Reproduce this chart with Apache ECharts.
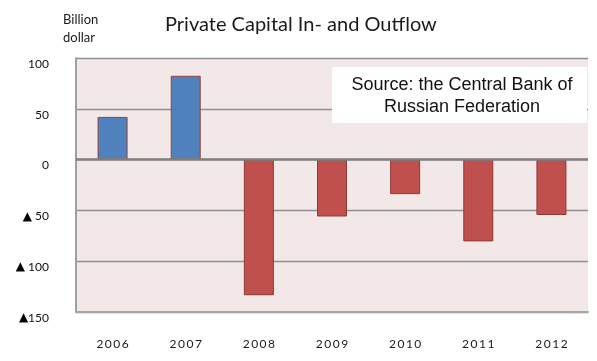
<!DOCTYPE html>
<html>
<head>
<meta charset="utf-8">
<script src="https://cdn.jsdelivr.net/npm/echarts@6/dist/echarts.min.js"></script>
<style>html,body{margin:0;padding:0;background:#fff;}#c{width:597px;height:361px;}</style>
</head>
<body>
<div id="c"></div>
<script>
var years = ['2006', '2007', '2008', '2009', '2010', '2011', '2012'];
var flows = [42, 82.5, -133.5, -56, -34, -80.5, -54.5];
var yTicks = { min: -150, max: 100, step: 50 };
var titleText = 'Private Capital In- and Outflow';
var unitText = 'Billion\ndollar';
var sourceText = 'Source: the Central Bank of\nRussian Federation';

var FONT = 'Lato, "Open Sans", sans-serif';
var chart = echarts.init(document.getElementById('c'), null, { renderer: 'canvas' });
chart.setOption({
  animation: false,
  backgroundColor: '#ffffff',
  title: {
    text: titleText, left: 160, top: 10,
    textStyle: { fontFamily: FONT, fontSize: 20, fontWeight: 'normal', color: '#1a1a1a' }
  },
  graphic: [
    { type: 'text', x: 63, y: 29, style: { text: unitText, font: '13px ' + FONT, fill: '#1a1a1a', lineHeight: 18, verticalAlign: 'middle' } },
    { type: 'rect', shape: { x: 332, y: 67, width: 255, height: 56 }, style: { fill: '#ffffff' }, z: 10 },
    { type: 'text', x: 462, y: 96, z: 11, style: { text: sourceText, font: '18px "Liberation Sans", Arial, sans-serif', fill: '#111', align: 'center', verticalAlign: 'middle', lineHeight: 22 } }
  ],
  grid: { left: 76, right: 9, top: 58, bottom: 49, show: true, backgroundColor: '#f2e8e8', borderWidth: 0 },
  xAxis: {
    type: 'category', data: years,
    axisLine: { onZero: false, lineStyle: { color: '#a6a6a6', width: 2 } },
    axisTick: { show: false },
    axisLabel: {
      margin: 26, color: '#1a1a1a', fontFamily: FONT, fontSize: 12,
      formatter: function (v) { return v.split('').join('\u2009'); }
    }
  },
  yAxis: {
    type: 'value', min: yTicks.min, max: yTicks.max, interval: yTicks.step,
    axisLine: { show: true, lineStyle: { color: '#a0a0a0', width: 2 } },
    axisTick: { show: false },
    splitLine: { lineStyle: { color: '#8f8f8f', width: 1.3 } },
    axisLabel: {
      margin: 27, color: '#111', fontFamily: FONT, fontSize: 12, verticalAlign: 'top',
      rich: { t: { fontFamily: '"DejaVu Sans", sans-serif', fontSize: 12, color: '#000' } },
      formatter: function (v) { return v < 0 ? (v === -150 ? '{t|\u25B2}' + (-v) : '{t|\u25B2} ' + (-v)) : String(v); }
    }
  },
  series: [{
    type: 'bar', barWidth: '41%',
    data: flows.map(function (v) {
      return {
        value: v,
        itemStyle: v >= 0
          ? { color: '#4f81bd', borderColor: '#9c3f3c', borderWidth: 1 }
          : { color: '#c0504d', borderColor: '#8e3835', borderWidth: 1 }
      };
    }),
    markLine: {
      silent: true, symbol: 'none', label: { show: false },
      lineStyle: { color: '#7f7f7f', width: 2.5, type: 'solid' },
      data: [{ yAxis: 0 }]
    }
  }]
});
</script>
</body>
</html>
